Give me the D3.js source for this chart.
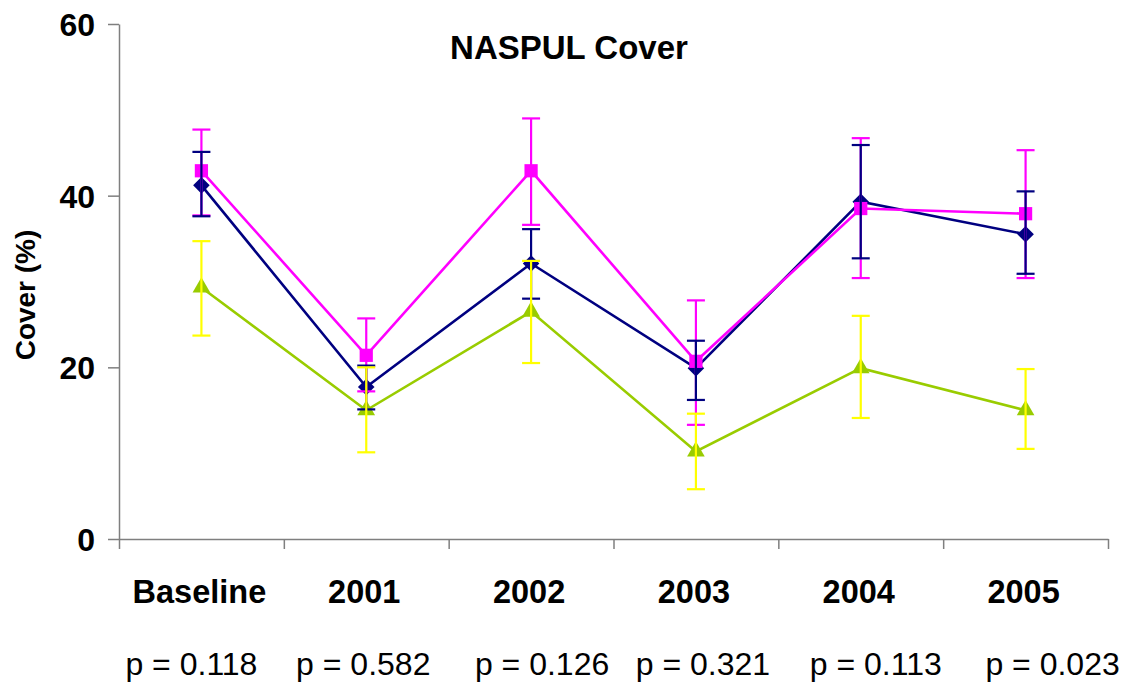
<!DOCTYPE html>
<html>
<head>
<meta charset="utf-8">
<script src="https://cdn.jsdelivr.net/npm/d3@7"></script>
<style>
  body { margin: 0; background: #fff; }
  svg { display: block; font-family: "Liberation Sans", Arial, sans-serif; }
  .axis path, .axis line { stroke: #7f7f7f; stroke-width: 1.5; }
</style>
</head>
<body>
<div id="chart"></div>
<script>
// Data
var categories = ["Baseline", "2001", "2002", "2003", "2004", "2005"];
var pLabels = ["p = 0.118", "p = 0.582", "p = 0.126", "p = 0.321", "p = 0.113", "p = 0.023"];

var navyMean = [41.2, 17.7, 32.1, 19.9, 39.3, 35.5];
var navyHigh = [45.1, 20.2, 36.1, 23.1, 45.9, 40.5];
var navyLow  = [37.6, 15.1, 28.0, 16.2, 32.7, 30.9];

var pinkMean = [42.9, 21.4, 42.9, 20.7, 38.5, 37.9];
var pinkHigh = [47.7, 25.7, 49.0, 27.8, 46.7, 45.3];
var pinkLow  = [37.7, 17.2, 36.6, 13.3, 30.4, 30.4];

var greenMean = [29.3, 15.0, 26.5, 10.2, 19.9, 15.0];
var greenHigh = [34.7, 20.0, 32.4, 14.6, 26.0, 19.8];
var greenLow  = [23.7, 10.1, 20.5, 5.8, 14.1, 10.5];

var yTicks = [0, 20, 40, 60];

// Layout constants
var W = 1128, H = 683;
var PLOT = { left: 119, right: 1108, top: 24, bottom: 539 };
var CAP = 9;
// the p-value text boxes were placed by hand, not centred on the categories
var P_NUDGE = [-10, -3, 11, 7, 15, 27];

var svg = d3.select("#chart").append("svg")
  .attr("width", W)
  .attr("height", H);

var x = d3.scaleBand().domain(categories).range([PLOT.left, PLOT.right]);
var edge = d3.scaleLinear().domain([0, categories.length]).range([PLOT.left, PLOT.right]);
var y = d3.scaleLinear().domain([0, 60]).range([PLOT.bottom, PLOT.top]);

function cx(d, i) { return x(categories[i]) + x.bandwidth() / 2; }

// Axes
svg.append("g")
  .attr("class", "axis")
  .attr("transform", "translate(" + PLOT.left + ",0)")
  .call(d3.axisLeft(y).tickValues(yTicks).tickSize(11).tickSizeOuter(0).tickPadding(13))
  .call(function(g) {
    g.selectAll("text")
      .attr("fill", "#000")
      .style("font-size", "32px")
      .style("font-weight", "bold")
      .attr("dy", "0.36em");
  });

svg.append("g")
  .attr("class", "axis")
  .attr("transform", "translate(0," + PLOT.bottom + ")")
  .call(d3.axisBottom(edge).tickValues(d3.range(categories.length + 1)).tickSize(10).tickSizeOuter(0).tickFormat(""));

svg.append("g")
  .attr("transform", "translate(0," + PLOT.bottom + ")")
  .call(d3.axisBottom(x).tickSize(0).tickPadding(41))
  .call(function(g) {
    g.select(".domain").remove();
    g.selectAll("text")
      .attr("fill", "#000")
      .attr("dx", -2)
      .style("font-size", "32.5px")
      .style("font-weight", "bold");
  });

// p values under the categories
svg.append("g").selectAll("text")
  .data(pLabels)
  .enter()
  .append("text")
  .attr("x", function(d, i) { return cx(d, i) + P_NUDGE[i]; })
  .attr("y", 675)
  .attr("text-anchor", "middle")
  .style("font-size", "32px")
  .text(function(d) { return d; });

// Title and y label
svg.append("text")
  .attr("x", 569)
  .attr("y", 59)
  .attr("text-anchor", "middle")
  .style("font-size", "33px")
  .style("font-weight", "bold")
  .text("NASPUL Cover");

svg.append("text")
  .attr("transform", "translate(35,295) rotate(-90)")
  .attr("text-anchor", "middle")
  .style("font-size", "28px")
  .style("font-weight", "bold")
  .text("Cover (%)");

var series = [
  { mean: navyMean, high: navyHigh, low: navyLow, line: "#000080", err: "#000080", marker: "diamond" },
  { mean: pinkMean, high: pinkHigh, low: pinkLow, line: "#ff00ff", err: "#ff00ff", marker: "square" },
  { mean: greenMean, high: greenHigh, low: greenLow, line: "#99cc00", err: "#ffff00", marker: "triangle" }
];

var line = d3.line()
  .x(function(d, i) { return cx(d, i); })
  .y(function(d) { return y(d); });

// Lines and markers
series.forEach(function(s) {
  svg.append("path")
    .datum(s.mean)
    .attr("fill", "none")
    .attr("stroke", s.line)
    .attr("stroke-width", 2.6)
    .attr("d", line);

  var sym = s.marker == "diamond" ? d3.symbolDiamond2 : (s.marker == "square" ? d3.symbolSquare : d3.symbolTriangle);
  var size = s.marker == "diamond" ? 175 : (s.marker == "square" ? 175 : 135);
  svg.append("g").selectAll("path")
    .data(s.mean)
    .enter()
    .append("path")
    .attr("transform", function(d, i) { return "translate(" + cx(d, i) + "," + y(d) + ")"; })
    .attr("d", d3.symbol().type(sym).size(size))
    .attr("fill", s.line);
});

// Error bars drawn on top (pink, then navy, then yellow)
[series[1], series[0], series[2]].forEach(function(s) {
  var g = svg.append("g")
    .attr("stroke", s.err)
    .attr("stroke-width", 2.2);
  s.mean.forEach(function(m, i) {
    var px = cx(m, i);
    g.append("line").attr("x1", px).attr("x2", px).attr("y1", y(s.high[i])).attr("y2", y(s.low[i]));
    g.append("line").attr("x1", px - CAP).attr("x2", px + CAP).attr("y1", y(s.high[i])).attr("y2", y(s.high[i]));
    g.append("line").attr("x1", px - CAP).attr("x2", px + CAP).attr("y1", y(s.low[i])).attr("y2", y(s.low[i]));
  });
});
</script>
</body>
</html>
